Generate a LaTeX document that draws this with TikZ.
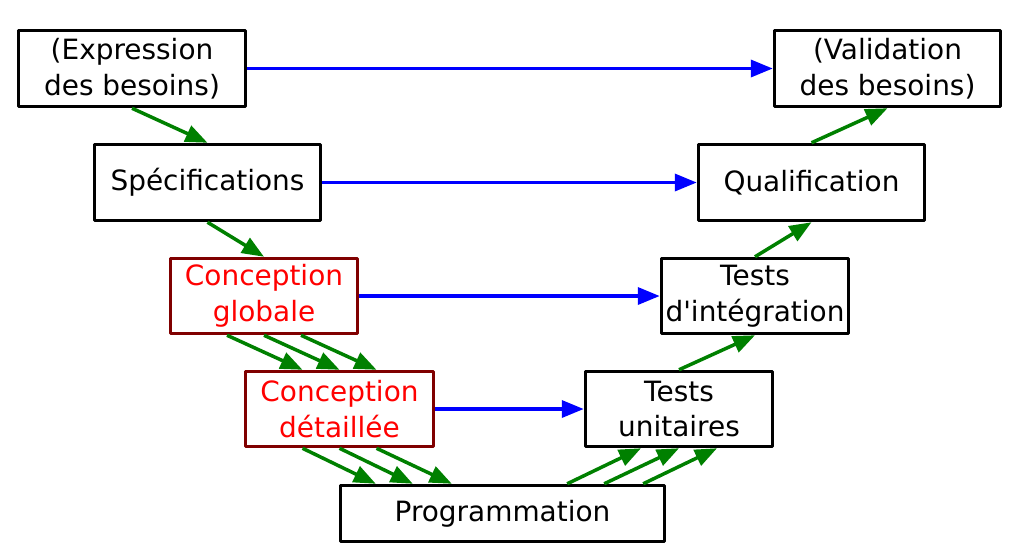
\documentclass[tikz,border=0pt]{standalone}
\usepackage{fontspec}
\setmainfont{DejaVu Sans}
\usetikzlibrary{arrows.meta}

\begin{document}
\begin{tikzpicture}[line join=round, >={Triangle[length=0.44cm, width=0.34cm]},
	etape/.style={draw, line width=0.07cm, align=center, inner sep=0pt,
		font=\fontsize{15.9}{20.4}\selectfont},
	conception/.style={etape, draw=red!50!black, text=red},
	vert/.style={->, line width=0.07cm, green!50!black},
	bleu/.style={->, line width=0.07cm, blue}]
	\begin{scope}[x=0.02cm, y=-0.02cm]
		\useasboundingbox (0,0) rectangle (1027,556);
		
		\path (132,68.5) node[etape, minimum width=4.54cm, minimum height=1.52cm] (expr) {(Expression\\des besoins)}
		(887.5,68.5) node[etape, minimum width=4.52cm, minimum height=1.52cm] (valid) {(Validation\\des besoins)}
		(207.5,182.5) node[etape, minimum width=4.52cm, minimum height=1.52cm] (spec) {Spécifications}
		(811.5,182.5) node[etape, minimum width=4.52cm, minimum height=1.52cm] (qualif) {Qualification}
		(264,296) node[conception, minimum width=3.74cm, minimum height=1.5cm] (cglob) {Conception\\globale}
		(755,296) node[etape, minimum width=3.74cm, minimum height=1.5cm] (tinteg) {Tests\\d\textquotesingle intégration}
		(339.5,409) node[conception, minimum width=3.76cm, minimum height=1.5cm] (cdet) {Conception\\détaillée}
		(679,409) node[etape, minimum width=3.74cm, minimum height=1.5cm] (tunit) {Tests\\unitaires}
		(502.5,513.5) node[etape, minimum width=6.48cm, minimum height=1.12cm] (prog) {Programmation};
		
		% branche descendante
		\draw[vert] (expr.south) -- (spec.north);
		\draw[vert] (spec.south) -- (cglob.north);
		\foreach \d in {-37,0,37}
		\draw[vert] ([xshift=\d*0.02cm]cglob.south) -- ([xshift=\d*0.02cm]cdet.north);
		\foreach \d/\e in {-37/37, 0/74, 37/113}
		\draw[vert] ([xshift=\d*0.02cm]cdet.south) -- ([xshift=\e*0.02cm]prog.north west);
		
		% branche montante
		\foreach \d/\e in {-99/-38, -62/0, -23/38}
		\draw[vert] ([xshift=\d*0.02cm]prog.north east) -- ([xshift=\e*0.02cm]tunit.south);
		\draw[vert] (tunit.north) -- (tinteg.south);
		\draw[vert] (tinteg.north) -- (qualif.south);
		\draw[vert] (qualif.north) -- (valid.south);
		
		\draw[bleu] (expr) -- (valid);
		\draw[bleu] (spec) -- (qualif);
		\draw[bleu] (cglob) -- (tinteg);
		\draw[bleu] (cdet) -- (tunit);
	\end{scope}
\end{tikzpicture}
\end{document}
